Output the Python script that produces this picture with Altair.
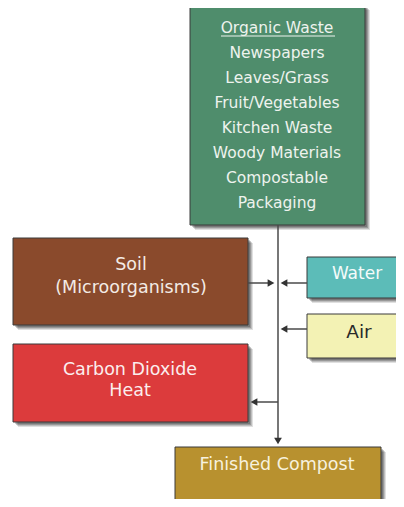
import altair as alt
import pandas as pd

# ---- content ----
box_names = ["organic", "soil", "water", "air", "co2", "compost"]
box_colors = ["#4f8d6c", "#8a4a2c", "#5cbcb8", "#f3f2b4", "#dc3b3c", "#b8912f"]
box_text_colors = ["#eef3ee", "#f3ebe5", "#f4fbfa", "#2a2a2a", "#fbeeee", "#f7f1de"]

organic_lines = ["Organic Waste", "Newspapers", "Leaves/Grass", "Fruit/Vegetables",
                 "Kitchen Waste", "Woody Materials", "Compostable", "Packaging"]
soil_lines = ["Soil", "(Microorganisms)"]
water_lines = ["Water"]
air_lines = ["Air"]
co2_lines = ["Carbon Dioxide", "Heat"]
compost_lines = ["Finished Compost"]

# ---- layout (pixel coordinates of the diagram) ----
layout = {
    "organic": (190, 365, 5, 225),
    "soil": (13, 248, 238, 325),
    "water": (307, 420, 257, 298),
    "air": (307, 420, 314, 358),
    "co2": (13, 248, 344, 422),
    "compost": (175, 381, 447, 505),
}
# (center x, first baseline, line step, font size)
text_pos = {
    "organic": (277, 33, 25, 15.5),
    "soil": (131, 270, 23, 17.5),
    "water": (357, 279, 23, 17),
    "air": (359, 338, 23, 18.5),
    "co2": (130, 375, 21, 17.5),
    "compost": (277, 470, 23, 17.5),
}
all_lines = {
    "organic": organic_lines, "soil": soil_lines, "water": water_lines,
    "air": air_lines, "co2": co2_lines, "compost": compost_lines,
}

boxes = pd.DataFrame([
    {"name": n, "x": layout[n][0], "x2": layout[n][1], "y": layout[n][2], "y2": layout[n][3],
     "fill": c}
    for n, c in zip(box_names, box_colors)
])

texts = []
for n, tc in zip(box_names, box_text_colors):
    cx, y0, dy, fs = text_pos[n]
    for i, t in enumerate(all_lines[n]):
        texts.append({"label": t, "x": cx, "y": y0 + i * dy, "color": tc, "fs": fs})
texts = pd.DataFrame(texts)

segments = pd.DataFrame([
    {"x": 278, "x2": 278, "y": 225, "y2": 440},
    {"x": 248, "x2": 272, "y": 283, "y2": 283},
    {"x": 284, "x2": 307, "y": 283, "y2": 283},
    {"x": 284, "x2": 307, "y": 329, "y2": 329},
    {"x": 254, "x2": 278, "y": 402, "y2": 402},
    {"x": 221, "x2": 335, "y": 36, "y2": 36},
])
segments["color"] = ["#4a4a4a"] * 5 + ["#eef3ee"]
segments["w"] = [1.5] * 5 + [1.2]

heads = pd.DataFrame([
    {"x": 271, "y": 283, "shape": "triangle-right"},
    {"x": 284, "y": 283, "shape": "triangle-left"},
    {"x": 284, "y": 329, "shape": "triangle-left"},
    {"x": 254, "y": 402, "shape": "triangle-left"},
    {"x": 278, "y": 441, "shape": "triangle-down"},
])

W, H = 388, 491
xs = alt.Scale(domain=[8, 396], range=[0, W], nice=False, zero=False)
ys = alt.Scale(domain=[8, 499], range=[0, H], nice=False, zero=False)


def shadow_layer(off, op):
    return alt.Chart(boxes).transform_calculate(
        sx=f"datum.x + {off}", sx2=f"datum.x2 + {off}",
        sy=f"datum.y + {off}", sy2=f"datum.y2 + {off}"
    ).mark_rect(color="#000000", opacity=op, clip=True).encode(
        x=alt.X("sx:Q", scale=xs, axis=None),
        x2="sx2:Q",
        y=alt.Y("sy:Q", scale=ys, axis=None),
        y2="sy2:Q",
    )


shadows = [shadow_layer(o, a) for o, a in [(5, 0.12), (4, 0.15), (3, 0.2), (2, 0.2)]]

rects = alt.Chart(boxes).mark_rect(stroke="#3a3a3a", strokeWidth=1, clip=True).encode(
    x=alt.X("x:Q", scale=xs, axis=None),
    x2="x2:Q",
    y=alt.Y("y:Q", scale=ys, axis=None),
    y2="y2:Q",
    fill=alt.Fill("fill:N", scale=None),
)

lines = alt.Chart(segments).mark_rule().encode(
    x=alt.X("x:Q", scale=xs, axis=None),
    x2="x2:Q",
    y=alt.Y("y:Q", scale=ys, axis=None),
    y2="y2:Q",
    color=alt.Color("color:N", scale=None),
    strokeWidth=alt.StrokeWidth("w:Q", scale=None),
)

arrow = alt.Chart(heads).mark_point(filled=True, size=60, color="#333333", opacity=1).encode(
    x=alt.X("x:Q", scale=xs, axis=None),
    y=alt.Y("y:Q", scale=ys, axis=None),
    shape=alt.Shape("shape:N", scale=None),
)

labels = alt.Chart(texts).mark_text(
    font="DejaVu Sans", align="center", baseline="alphabetic",
).encode(
    x=alt.X("x:Q", scale=xs, axis=None),
    y=alt.Y("y:Q", scale=ys, axis=None),
    text="label:N",
    color=alt.Color("color:N", scale=None),
    size=alt.Size("fs:Q", scale=None),
)

chart = alt.layer(*shadows, rects, lines, arrow, labels).properties(
    width=W, height=H, padding=0, autosize=alt.AutoSizeParams(type="none"),
    view=alt.ViewBackground(stroke="transparent", strokeWidth=0),
).configure_view(stroke="transparent", strokeWidth=0).configure(background="white")

chart.save("out.html", embed_options={"renderer": "svg", "actions": False})
